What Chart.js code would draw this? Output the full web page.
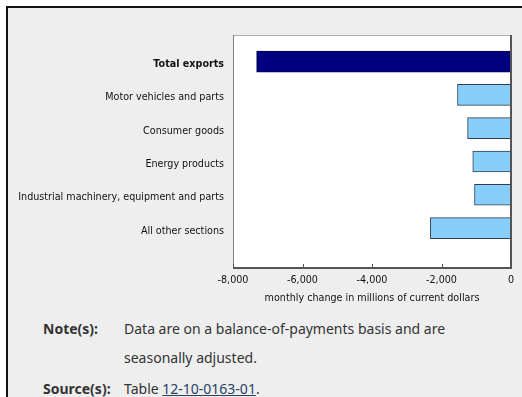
<!DOCTYPE html>
<html lang="en">
<head>
<meta charset="UTF-8">
<title>Exports by product section</title>
<script src="https://cdn.jsdelivr.net/npm/chart.js@4/dist/chart.umd.min.js"></script>
<style>
  body { margin: 0; width: 522px; height: 397px; overflow: hidden; position: relative; background: #fff; font-family: "Noto Sans", sans-serif; }
  .frame { position: absolute; left: 6px; top: 6px; width: 540px; height: 420px; border-left: 2px solid #111; border-top: 2px solid #111; background: #eeeeee; }
  .chart-box { position: absolute; left: 0; top: 0; width: 522px; height: 310px; }
  .notes { position: absolute; left: 43px; top: 314px; font-size: 14px; color: #333; }
  .row { display: flex; line-height: 29px; }
  .row .lbl { width: 81px; font-weight: bold; }
  .row.src { margin-top: 2px; }
  .notes a { color: #284162; text-decoration: underline; }
</style>
</head>
<body>
  <div class="frame"></div>
  <div class="chart-box"><canvas id="exportsChart"></canvas></div>
  <div class="notes">
    <div class="row"><span class="lbl">Note(s):</span><span>Data are on a balance-of-payments basis and are<br>seasonally adjusted.</span></div>
    <div class="row src"><span class="lbl">Source(s):</span><span>Table <a href="#">12-10-0163-01</a>.</span></div>
  </div>

<script>
  // categories (top to bottom)
  const categories = [
    'Total exports',
    'Motor vehicles and parts',
    'Consumer goods',
    'Energy products',
    'Industrial machinery, equipment and parts',
    'All other sections'
  ];
  // monthly change, millions of current dollars
  const changes = [-7320, -1540, -1250, -1100, -1050, -2320];
  const xTicks = [-8000, -6000, -4000, -2000, 0];

  const fontFamily = '"DejaVu Sans", Verdana, sans-serif';

  // white plot box, borders and inward tick marks
  const plotFrame = {
    id: 'plotFrame',
    beforeDatasetsDraw(chart) {
      const { ctx, chartArea: a } = chart;
      ctx.save();
      ctx.fillStyle = '#ffffff';
      ctx.fillRect(a.left, a.top, a.right - a.left, a.bottom - a.top);
      ctx.restore();
    },
    afterDatasetsDraw(chart) {
      const { ctx, chartArea: a } = chart;
      const xs = chart.scales.x;
      ctx.save();
      ctx.lineWidth = 1;
      ctx.strokeStyle = '#b0b0b0';
      ctx.beginPath();
      ctx.moveTo(a.left, a.top + 0.5);
      ctx.lineTo(a.right, a.top + 0.5);
      ctx.stroke();
      ctx.strokeStyle = '#808080';
      ctx.beginPath();
      ctx.moveTo(a.left + 0.5, a.top);
      ctx.lineTo(a.left + 0.5, a.bottom);
      ctx.stroke();
      ctx.strokeStyle = '#555555';
      ctx.lineWidth = 2;
      ctx.beginPath();
      ctx.moveTo(a.right, a.top);
      ctx.lineTo(a.right, a.bottom + 1);
      ctx.moveTo(a.left, a.bottom);
      ctx.lineTo(a.right + 1, a.bottom);
      ctx.stroke();
      ctx.lineWidth = 1;
      ctx.beginPath();
      xTicks.forEach(v => {
        const px = Math.round(xs.getPixelForValue(v)) + 0.5;
        ctx.moveTo(px, a.bottom);
        ctx.lineTo(px, a.bottom - 4);
      });
      ctx.stroke();
      ctx.restore();
    }
  };

  new Chart(document.getElementById('exportsChart'), {
    type: 'bar',
    data: {
      datasets: [{
        data: changes.map((v, i) => ({ x: v, y: i })),
        backgroundColor: changes.map((v, i) => i === 0 ? '#000080' : '#87cefa'),
        borderColor: changes.map((v, i) => i === 0 ? '#00004a' : '#2f3f4f'),
        borderWidth: 1,
        borderSkipped: false,
        barThickness: 21
      }]
    },
    options: {
      indexAxis: 'y',
      responsive: true,
      maintainAspectRatio: false,
      animation: false,
      layout: { padding: { top: 35, right: 11, left: 0, bottom: 0 } },
      plugins: {
        legend: { display: false },
        tooltip: { enabled: false }
      },
      scales: {
        y: {
          type: 'linear',
          reverse: true,
          offset: false,
          min: -0.8,
          max: 6.2,
          afterBuildTicks: scale => { scale.ticks = categories.map((c, i) => ({ value: i })); },
          afterFit: scale => { scale.width = 233; },
          grid: { display: false, drawTicks: false, offset: false },
          border: { display: false },
          ticks: {
            padding: 9,
            labelOffset: 3,
            color: '#111',
            font: ctx => ({ family: fontFamily, size: 9.6, weight: ctx.tick && ctx.tick.value === 0 ? 'bold' : 'normal' }),
            callback: value => categories[value]
          }
        },
        x: {
          min: -8000,
          max: 0,
          afterBuildTicks: scale => { scale.ticks = xTicks.map(v => ({ value: v })); },
          afterFit: scale => { scale.height = 42; },
          grid: { display: false, drawTicks: false },
          border: { display: false },
          ticks: {
            padding: 7,
            color: '#111',
            maxRotation: 0,
            font: { family: fontFamily, size: 9.6 },
            callback: value => value.toLocaleString('en-US')
          },
          title: {
            display: true,
            text: 'monthly change in millions of current dollars',
            color: '#111',
            font: { family: fontFamily, size: 9.6 },
            padding: { top: 4, bottom: 6 }
          }
        }
      }
    },
    plugins: [plotFrame]
  });
</script>
</body>
</html>
